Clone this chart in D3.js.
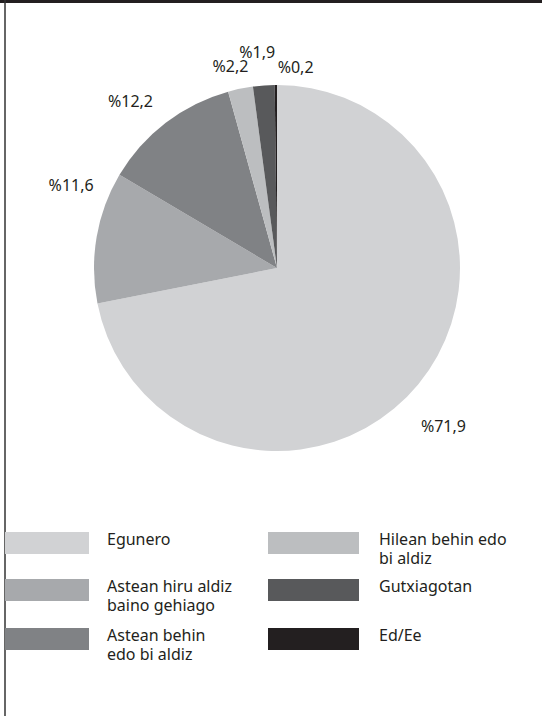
<!DOCTYPE html>
<html>
<head>
<meta charset="utf-8">
<script src="https://cdn.jsdelivr.net/npm/d3@7"></script>
<style>
  body { margin: 0; background: #fff; }
  svg { display: block; font-family: "Noto Sans", "Open Sans", sans-serif; }
  .pct { font-size: 16px; fill: #231f20; }
  .leg { font-size: 16px; fill: #231f20; }
</style>
</head>
<body>
<svg id="chart"></svg>
<script>
// datuak
const kategoriak = ['Egunero', 'Astean hiru aldiz baino gehiago', 'Astean behin edo bi aldiz', 'Hilean behin edo bi aldiz', 'Gutxiagotan', 'Ed/Ee'];
const balioak = [71.9, 11.6, 12.2, 2.2, 1.9, 0.2];
const etiketak = ['%71,9', '%11,6', '%12,2', '%2,2', '%1,9', '%0,2'];
const legendaLerroak = [['Egunero'], ['Astean hiru aldiz', 'baino gehiago'], ['Astean behin', 'edo bi aldiz'], ['Hilean behin edo', 'bi aldiz'], ['Gutxiagotan'], ['Ed/Ee']];
const koloreak = ['#d1d2d4', '#a7a9ac', '#808285', '#bcbec0', '#58595b', '#231f20'];

const w = 542, h = 716;
const cx = 277, cy = 268, r = 183;
const rLabel = 218;
// etiketen doikuntza txikiak (px)
const nudge = [[-2, 20], [9, -46], [-14, 6], [-3, 12], [-4, 2], [20, 17]];

const svg = d3.select('#chart').attr('width', w).attr('height', h);

// goiko barra eta ezkerreko marra
svg.append('rect').attr('x', 0).attr('y', 0).attr('width', w).attr('height', 3).attr('fill', '#231f20');
svg.append('line').attr('x1', 5).attr('x2', 5).attr('y1', 0).attr('y2', h)
  .attr('stroke', '#333').attr('stroke-width', 1.5);

const pie = d3.pie().sort(null).value(d => d);
const arcs = pie(balioak);
const arc = d3.arc().innerRadius(0).outerRadius(r);

const g = svg.append('g').attr('transform', 'translate(' + cx + ',' + cy + ')');

g.selectAll('path')
  .data(arcs)
  .enter()
  .append('path')
  .attr('d', arc)
  .attr('fill', (d, i) => koloreak[i]);

const labelArc = d3.arc().innerRadius(rLabel).outerRadius(rLabel);

g.selectAll('text.pct')
  .data(arcs)
  .enter()
  .append('text')
  .attr('class', 'pct')
  .attr('text-anchor', 'middle')
  .attr('dy', '0.35em')
  .attr('x', (d, i) => labelArc.centroid(d)[0] + nudge[i][0])
  .attr('y', (d, i) => labelArc.centroid(d)[1] + nudge[i][1])
  .text((d, i) => etiketak[i]);

// legenda
const legX = [5, 268];
const legTextX = [107, 379];
const legY = [532, 579, 628];
const swW = [84, 91], swH = 22;

const leg = svg.selectAll('g.legitem')
  .data(kategoriak)
  .enter()
  .append('g')
  .attr('class', 'legitem');

leg.append('rect')
  .attr('x', (d, i) => legX[Math.floor(i / 3)])
  .attr('y', (d, i) => legY[i % 3])
  .attr('width', (d, i) => swW[Math.floor(i / 3)])
  .attr('height', swH)
  .attr('fill', (d, i) => koloreak[i]);

leg.each(function (d, i) {
  const col = Math.floor(i / 3);
  legendaLerroak[i].forEach((l, j) => {
    d3.select(this).append('text')
      .attr('class', 'leg')
      .attr('x', legTextX[col])
      .attr('y', legY[i % 3] + 13 + j * 19)
      .text(l);
  });
});
</script>
</body>
</html>
